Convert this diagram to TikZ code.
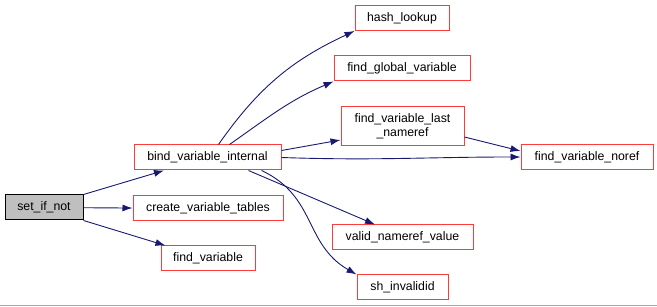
\documentclass[tikz,border=0pt]{standalone}
\usepackage{fontspec}
\setmainfont{Liberation Sans}
\usepackage{tikz}
\usetikzlibrary{arrows.meta, positioning}

\definecolor{edgeblue}{RGB}{25,25,112}
\definecolor{boxred}{RGB}{255,60,60}
\definecolor{rootgray}{RGB}{191,191,191}

\begin{document}
\begin{tikzpicture}[
    x=1pt, y=-1pt,
    every node/.style={font=\fontsize{12.3}{14}\selectfont},
    fn/.style={rectangle, draw=boxred, line width=1pt, fill=white,
               minimum height=25pt, inner xsep=4pt, align=center},
    root/.style={rectangle, draw=black, line width=1pt, fill=rootgray,
                 minimum height=25pt, minimum width=78pt, align=center},
    call/.style={-{Latex[length=10pt, width=7pt]}, edgeblue, line width=0.9pt}
  ]
  \useasboundingbox (0,0) rectangle (657,307);

  % Caller
  \node[root] (setifnot) at (44, 207.5) {set\_if\_not};

  % First level
  \node[fn, minimum width=147pt] (bindvar) at (207.5, 157.5) {bind\_variable\_internal};
  \node[fn, minimum width=150pt] (createtables) at (208, 208.5) {create\_variable\_tables};
  \node[fn, minimum width=94pt] (findvar) at (208, 258.5) {find\_variable};

  % Second level
  \node[fn, minimum width=94pt] (hashlookup) at (402, 18) {hash\_lookup};
  \node[fn, minimum width=136pt] (findglobal) at (402, 68.5) {find\_global\_variable};
  \node[fn, minimum width=123pt, minimum height=39pt] (findlast) at (402.5, 126.5)
    {find\_variable\_last\\\_nameref};
  \node[fn, minimum width=141pt] (validnameref) at (402.5, 237.5) {valid\_nameref\_value};
  \node[fn, minimum width=91pt] (shinvalid) at (402.5, 287.5) {sh\_invalidid};

  % Third level
  \node[fn, minimum width=132pt] (findnoref) at (587, 157) {find\_variable\_noref};

  % Calls
  \draw[call] (setifnot.north east) -- (bindvar);
  \draw[call] (setifnot) -- (createtables);
  \draw[call] (setifnot.south east) -- (findvar);
  \draw[call] (bindvar.north) ++(11,0) to[out=55, in=205] (hashlookup.south west);
  \draw[call] (bindvar.north) ++(22,0) to[out=35, in=203] (findglobal.south west);
  \draw[call] (bindvar.east) ++(0,-7) -- (findlast.west |- 0,140);
  \draw[call] (bindvar.east) to[out=-2, in=180] (findnoref.west);
  \draw[call] (findlast.east |- 0,137) -- (findnoref.north west |- 0,151);
  \draw[call] (bindvar.south) ++(41,0) -- (validnameref.north west -| 375,0);
  \draw[call] (bindvar.south) ++(54,0) to[out=-25, in=150, looseness=1.1] (shinvalid.north west);

  % Bottom rule
  \draw[gray!70, line width=1pt] (0,305.5) -- (657,305.5);
\end{tikzpicture}
\end{document}
